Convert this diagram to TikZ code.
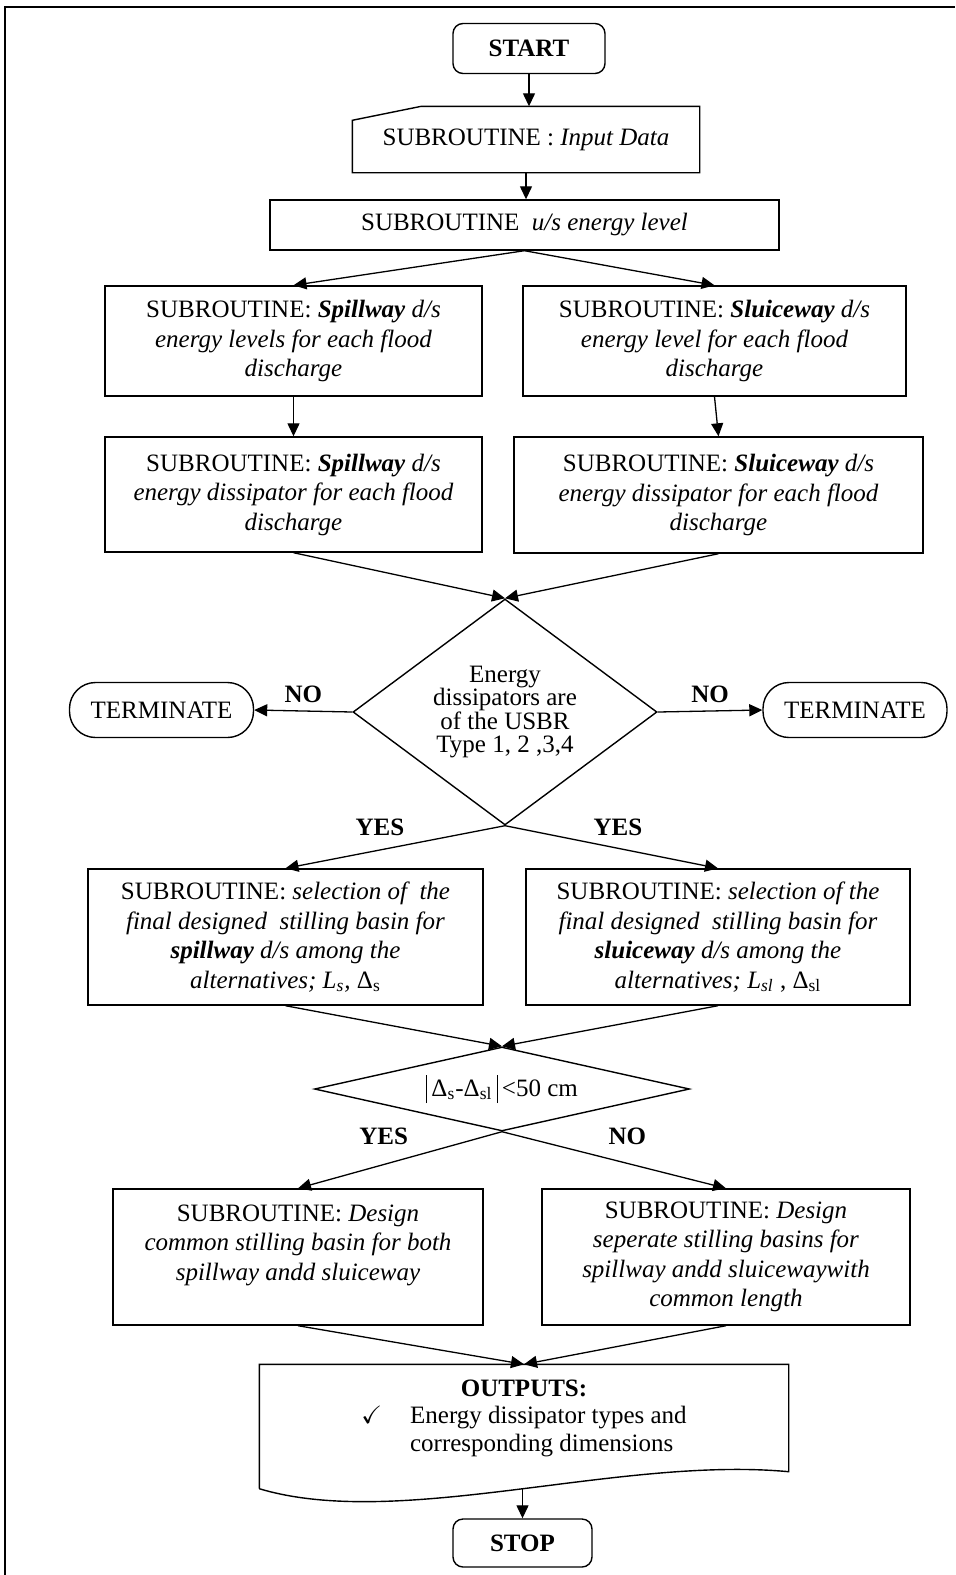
\documentclass[tikz,border=0pt]{standalone}
\usepackage{fontspec}
\setmainfont{Liberation Serif}
\usepackage{amssymb}
\usetikzlibrary{arrows.meta, shapes.geometric, calc}
\tikzset{
  sub/.style={draw, line width=0.7pt, align=center, inner sep=2pt,
              font=\fontsize{12.5}{14.75}\selectfont},
  endpt/.style={sub, rounded corners=5pt, minimum width=#1, minimum height=25pt},
  term/.style={sub, rounded corners=13pt, minimum width=92pt, minimum height=27.5pt},
  cond/.style={draw, diamond, line width=0.7pt, align=center, inner sep=0pt,
               font=\fontsize{12.5}{11.7}\selectfont},
  flow/.style={-{Triangle[length=6.5pt,width=6pt]}, line width=0.65pt},
  lbl/.style={font=\fontsize{12.5}{14}\selectfont\bfseries, inner sep=1pt}
}
\newcommand{\dl}{\rule[-3.5pt]{0.6pt}{14pt}}

\begin{document}
\begin{tikzpicture}[x=0.5pt, y=-0.5pt]
  \useasboundingbox (0,0) rectangle (955,1575);
  \draw[line width=1pt] (5,1575) -- (5,7) -- (955,7);

  \node[endpt=76pt] (st) at (529,48.5) {\textbf{START}};
  \node[sub, draw=none, minimum width=173pt, minimum height=32.5pt] (inp) at (526,139.5)
    {SUBROUTINE : \textit{Input Data}};
  \draw[line width=0.7pt] ($(inp.north west)+(0,14)$) -- ($(inp.north west)+(69,0)$)
    -- (inp.north east) -- (inp.south east) -- (inp.south west) -- cycle;
  \node[sub, minimum width=254.5pt, minimum height=25pt] (usl) at (524.5,225)
    {SUBROUTINE\ \ \textit{u/s energy level}};

  % energy levels and dissipators
  \node[sub, minimum width=188.5pt, minimum height=55pt] (spl1) at (293.5,341)
    {SUBROUTINE: \textbf{\textit{Spillway}} \textit{d/s}\\ \textit{energy levels for each flood}\\ \textit{discharge}};
  \node[sub, minimum width=191.5pt, minimum height=55pt] (slu1) at (714.5,341)
    {SUBROUTINE: \textbf{\textit{Sluiceway}} \textit{d/s}\\ \textit{energy level for each flood}\\ \textit{discharge}};
  \node[sub, minimum width=188.5pt, minimum height=57.5pt] (spl2) at (293.5,494.5)
    {SUBROUTINE: \textbf{\textit{Spillway}} \textit{d/s}\\ \textit{energy dissipator for each flood}\\ \textit{discharge}};
  \node[sub, minimum width=204.5pt, minimum height=58pt] (slu2) at (718.5,495)
    {SUBROUTINE: \textbf{\textit{Sluiceway}} \textit{d/s}\\ \textit{energy dissipator for each flood}\\ \textit{discharge}};

  \node[cond, aspect=1.345, minimum width=152pt, minimum height=113pt] (d1) at (505,712)
    {Energy\\ dissipators are\\ of the USBR\\ Type 1, 2 ,3,4};
  \node[term] (tl) at (161.5,710) {TERMINATE};
  \node[term] (tr) at (855,710) {TERMINATE};

  \node[sub, minimum width=197.5pt, minimum height=68pt] (sel1) at (285.5,937)
    {SUBROUTINE: \textit{selection of\ \ the}\\ \textit{final designed\ \ stilling basin for}\\
     \textbf{\textit{spillway}} \textit{d/s among the}\\ \textit{alternatives; L\textsubscript{s},} Δ\textsubscript{s}};
  \node[sub, minimum width=192pt, minimum height=68pt] (sel2) at (718,937)
    {SUBROUTINE: \textit{selection of the}\\ \textit{final designed\ \ stilling basin for}\\
     \textbf{\textit{sluiceway}} \textit{d/s among the}\\ \textit{alternatives; L\textsubscript{sl}} , Δ\textsubscript{sl}};

  \node[cond, aspect=4.46, minimum width=187.5pt, minimum height=42pt] (d2) at (502,1089)
    {\dl\,Δ\textsubscript{s}-Δ\textsubscript{sl}\,\dl\,<50 cm};

  \node[sub, minimum width=185pt, minimum height=68pt] (des1) at (298,1257)
    {SUBROUTINE: \textit{Design}\\ \textit{common stilling basin for both}\\ \textit{spillway andd sluiceway}\\ ~};
  \node[sub, minimum width=184pt, minimum height=68pt] (des2) at (726,1257)
    {SUBROUTINE: \textit{Design}\\ \textit{seperate stilling basins for}\\ \textit{spillway andd sluicewaywith}\\ \textit{common length}};

  % outputs (document shape)
  \node[sub, draw=none, minimum width=264pt, minimum height=53pt] (out) at (524,1418)
    {\begin{tabular}{@{}l@{\hspace{14pt}}l@{}}
       \multicolumn{2}{c}{\textbf{OUTPUTS:}}\\[-1pt]
       $\checkmark$ & Energy dissipator types and\\[-1pt]
       & corresponding dimensions
     \end{tabular}};
  \draw[line width=0.7pt] (out.south west) ++(0,17) -- (out.north west) -- (out.north east) -- (out.south east)
    .. controls ($(out.south west)+(360,-16)$) and ($(out.south west)+(140,59)$) .. ($(out.south west)+(0,17)$);
  \path (out.south east) .. controls ($(out.south west)+(360,-16)$) and ($(out.south west)+(140,59)$)
    .. coordinate[pos=0.48] (outb) ($(out.south west)+(0,17)$);
  \node[endpt=69.5pt, minimum height=24pt] (sp) at (522.5,1543) {\textbf{STOP}};

  % connectors
  \draw[flow] (st.south) -- (st.south |- inp.north);
  \draw[flow] (inp.south) -- (inp.south |- usl.north);
  \draw[flow] (usl.south) -- (spl1.north);
  \draw[flow] (usl.south) -- (slu1.north);
  \draw[flow] (spl1.south) -- (spl2.north);
  \draw[flow] (slu1.south) -- (slu2.north);
  \draw[flow] (spl2.south) -- (d1.north);
  \draw[flow] (slu2.south) -- (d1.north);
  \draw[flow] (d1.west) -- node[lbl, above=3pt] {NO} (tl.east);
  \draw[flow] (d1.east) -- node[lbl, above=3pt] {NO} (tr.west);
  \draw[flow] (d1.south) -- node[lbl, pos=0.57, above=6pt] {YES} (sel1.north);
  \draw[flow] (d1.south) -- node[lbl, pos=0.53, above=5pt] {YES} (sel2.north);
  \draw[flow] (sel1.south) -- (d2.north);
  \draw[flow] (sel2.south) -- (d2.north);
  \draw[flow] (d2.south) -- node[lbl, pos=0.58, above=8.5pt] {YES} (des1.north);
  \draw[flow] (d2.south) -- node[lbl, pos=0.56, above=8pt] {NO} (des2.north);
  \draw[flow] (des1.south) -- (out.north);
  \draw[flow] (des2.south) -- (out.north);
  \draw[flow] (outb -| sp.north) -- (sp.north);
\end{tikzpicture}
\end{document}
